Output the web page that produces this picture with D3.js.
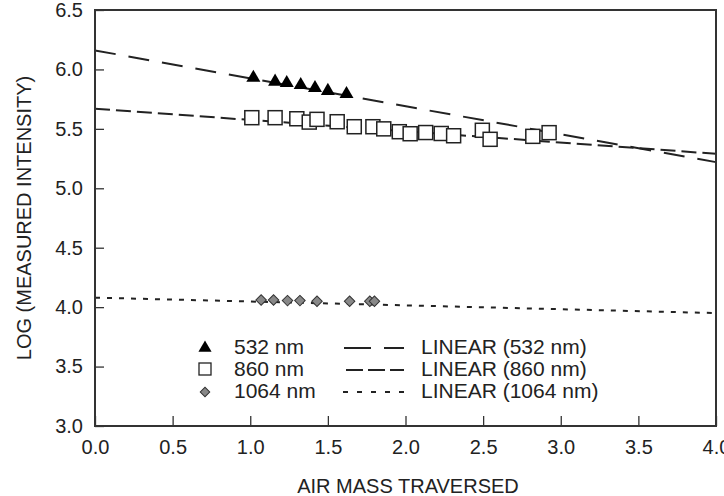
<!DOCTYPE html>
<html>
<head>
<meta charset="utf-8">
<script src="https://cdn.jsdelivr.net/npm/d3@7"></script>
<style>
  body { margin: 0; background: #fff; }
  text { font-family: "Liberation Sans", Arial, sans-serif; fill: #222; }
</style>
</head>
<body>
<div id="chart"></div>
<script>
// measured points (air mass, log intensity)
const air532 = [1.02, 1.16, 1.235, 1.325, 1.417, 1.50, 1.62];
const log532 = [5.93, 5.897, 5.886, 5.869, 5.844, 5.819, 5.793];

const air860 = [1.01, 1.16, 1.30, 1.38, 1.43, 1.56, 1.67, 1.79, 1.86, 1.96, 2.03, 2.13, 2.23, 2.31, 2.495, 2.545, 2.82, 2.925];
const log860 = [5.594, 5.594, 5.585, 5.557, 5.58, 5.56, 5.518, 5.518, 5.50, 5.476, 5.459, 5.469, 5.461, 5.442, 5.488, 5.412, 5.437, 5.468];

const air1064 = [1.07, 1.15, 1.24, 1.32, 1.43, 1.64, 1.77, 1.80];
const log1064 = [4.06, 4.06, 4.055, 4.055, 4.05, 4.05, 4.05, 4.05];

// linear fits, value at each end of the x range
const fitX = [0, 4];
const fit532 = [6.16, 5.22];
const fit860 = [5.67, 5.29];
const fit1064 = [4.08, 3.95];

const xTicks = [0, 0.5, 1, 1.5, 2, 2.5, 3, 3.5, 4];
const yTicks = [3, 3.5, 4, 4.5, 5, 5.5, 6, 6.5];

const legendSymbols = ["532 nm", "860 nm", "1064 nm"];
const legendLines = ["LINEAR (532 nm)", "LINEAR (860 nm)", "LINEAR (1064 nm)"];

(function chart() {
  let width = 724,
      height = 496,
      margin = ({ top: 10, right: 8, bottom: 70, left: 95 });

  const svg = d3.select("#chart")
      .append("svg")
      .attr("width", width)
      .attr("height", height);

  let x = d3.scaleLinear()
    .domain([0, 4])
    .range([margin.left, width - margin.right]);

  let y = d3.scaleLinear()
    .domain([3, 6.5])
    .range([height - margin.bottom, margin.top]);

  // fit lines
  const line = d3.line().x(d => x(d[0])).y(d => y(d[1]));
  const fits = [
    { vals: fit532, dash: "21,13" },
    { vals: fit860, dash: "15,6" },
    { vals: fit1064, dash: "5,7" }
  ];
  svg.append("g")
    .selectAll("path")
    .data(fits)
    .join("path")
    .attr("d", f => line(fitX.map((v, i) => [v, f.vals[i]])))
    .attr("fill", "none")
    .attr("stroke", "#222")
    .attr("stroke-width", 2)
    .attr("stroke-dasharray", f => f.dash);

  // 860 squares
  svg.append("g")
    .selectAll("rect")
    .data(air860.map((a, i) => [a, log860[i]]))
    .join("rect")
    .attr("x", d => x(d[0]) - 7)
    .attr("y", d => y(d[1]) - 7)
    .attr("width", 14)
    .attr("height", 14)
    .attr("fill", "#fff")
    .attr("stroke", "#222")
    .attr("stroke-width", 1.5);

  // 532 triangles
  svg.append("g")
    .selectAll("path")
    .data(air532.map((a, i) => [a, log532[i]]))
    .join("path")
    .attr("d", d3.symbol().type(d3.symbolTriangle).size(85))
    .attr("fill", "#000")
    .attr("transform", d => `translate(${x(d[0])},${y(d[1])})`);

  // 1064 diamonds
  const diamond = d3.symbol().type(d3.symbolSquare).size(55);
  svg.append("g")
    .selectAll("path")
    .data(air1064.map((a, i) => [a, log1064[i]]))
    .join("path")
    .attr("d", diamond)
    .attr("fill", "#888")
    .attr("stroke", "#333")
    .attr("stroke-width", 1)
    .attr("transform", d => `translate(${x(d[0])},${y(d[1])}) rotate(45)`);

  // axes, ticks pointing inward
  svg.append("g")
    .attr("transform", `translate(0,${height - margin.bottom})`)
    .call(d3.axisBottom(x).tickValues(xTicks).tickFormat(d3.format(".1f")).tickSize(-10).tickPadding(14))
    .call(g => g.select(".domain").remove())
    .call(g => g.selectAll("line").attr("stroke", "#333").attr("stroke-width", 1.3))
    .call(g => g.selectAll("text").style("font-size", "20px"));

  svg.append("g")
    .attr("transform", `translate(${margin.left},0)`)
    .call(d3.axisLeft(y).tickValues(yTicks).tickFormat(d3.format(".1f")).tickSize(-9).tickPadding(12))
    .call(g => g.select(".domain").remove())
    .call(g => g.selectAll("line").attr("stroke", "#333").attr("stroke-width", 1.3))
    .call(g => g.selectAll("text").style("font-size", "20px"));

  svg.append("rect")
    .attr("x", margin.left)
    .attr("y", margin.top)
    .attr("width", width - margin.left - margin.right)
    .attr("height", height - margin.top - margin.bottom)
    .attr("fill", "none")
    .attr("stroke", "#333")
    .attr("stroke-width", 2);

  svg.append("text")
    .attr("x", 408)
    .attr("y", 493)
    .attr("text-anchor", "middle")
    .style("font-size", "20px")
    .text("AIR MASS TRAVERSED");

  svg.append("text")
    .attr("transform", `translate(24,${(margin.top + height - margin.bottom) / 2}) rotate(-90)`)
    .attr("dy", "0.35em")
    .attr("text-anchor", "middle")
    .style("font-size", "20px")
    .text("LOG (MEASURED INTENSITY)");

  // legend
  const rowY = [347, 369, 391];
  const leg = svg.append("g");
  leg.append("path")
    .attr("d", d3.symbol().type(d3.symbolTriangle).size(75))
    .attr("transform", `translate(205,${rowY[0] + 1})`)
    .attr("fill", "#000");
  leg.append("rect")
    .attr("x", 199).attr("y", rowY[1] - 6)
    .attr("width", 12).attr("height", 12)
    .attr("fill", "#fff").attr("stroke", "#222").attr("stroke-width", 1.3);
  leg.append("path")
    .attr("d", d3.symbol().type(d3.symbolSquare).size(45))
    .attr("transform", `translate(205,${rowY[2] + 1}) rotate(45)`)
    .attr("fill", "#888").attr("stroke", "#333");

  leg.selectAll(".lab")
    .data(legendSymbols)
    .join("text")
    .attr("class", "lab")
    .attr("x", 234)
    .attr("y", (d, i) => rowY[i])
    .attr("dy", "0.35em")
    .style("font-size", "21px")
    .text(d => d);

  const legDash = [
    { x1: 344, dash: "27,13" },
    { x1: 346, dash: "17,5" },
    { x1: 343, dash: "5,9" }
  ];
  leg.selectAll(".lline")
    .data(legDash)
    .join("line")
    .attr("class", "lline")
    .attr("x1", d => d.x1).attr("x2", 404)
    .attr("y1", (d, i) => rowY[i] + 1).attr("y2", (d, i) => rowY[i] + 1)
    .attr("stroke", "#222")
    .attr("stroke-width", 2)
    .attr("stroke-dasharray", d => d.dash);

  leg.selectAll(".llab")
    .data(legendLines)
    .join("text")
    .attr("class", "llab")
    .attr("x", 421)
    .attr("y", (d, i) => rowY[i])
    .attr("dy", "0.35em")
    .style("font-size", "21px")
    .text(d => d);
})();
</script>
</body>
</html>
